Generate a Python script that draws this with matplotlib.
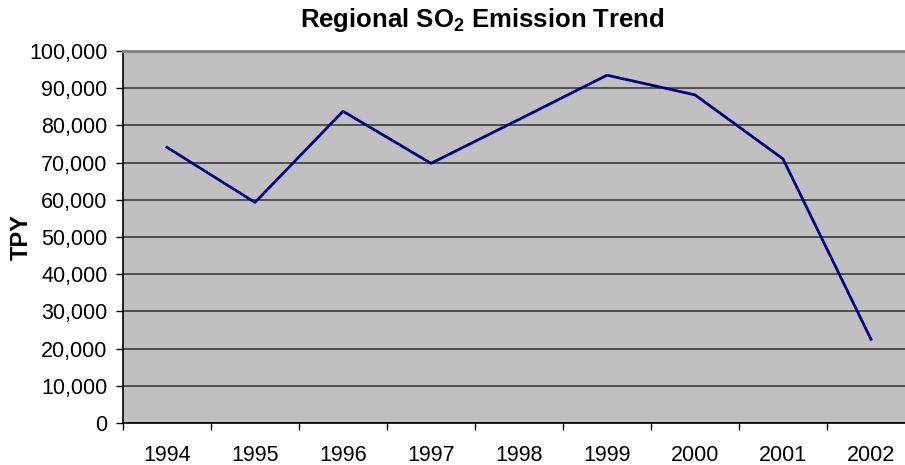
import matplotlib.pyplot as plt
import numpy as np
from matplotlib.ticker import FuncFormatter, MultipleLocator

plt.rcParams["font.family"] = ["Liberation Sans", "DejaVu Sans"]
plt.rcParams["mathtext.fontset"] = "custom"
plt.rcParams["mathtext.rm"] = "Liberation Sans"
plt.rcParams["mathtext.bf"] = "Liberation Sans:bold"

years = ["1994", "1995", "1996", "1997", "1998", "1999", "2000", "2001", "2002"]
tpy = [74100, 59300, 83800, 69800, 81600, 93500, 88200, 71000, 22500]

W, H = 905, 465
fig = plt.figure(figsize=(W / 100, H / 100), dpi=100)
ax = fig.add_axes([123 / W, 42 / H, (915 - 123) / W, 372 / H])
ax.set_facecolor("#c0c0c0")

x = np.arange(len(years))
ax.plot(x, tpy, color="#000080", linewidth=2, zorder=3)

ax.set_xlim(-0.5, len(years) - 0.5)
ax.set_ylim(0, 100000)
ax.yaxis.set_major_locator(MultipleLocator(10000))
ax.yaxis.set_major_formatter(FuncFormatter(lambda v, p: f"{int(v):,}"))
ax.grid(axis="y", color="#303030", linewidth=1.1, zorder=1)
ax.set_axisbelow(True)

ax.set_xticks(x)
ax.set_xticklabels(years)
ax.set_xticks(np.arange(len(years) + 1) - 0.5, minor=True)
ax.tick_params(axis="x", which="major", length=0, pad=16, labelsize=15.5)
ax.tick_params(axis="x", which="minor", length=5, width=1, direction="out")
ax.tick_params(axis="y", length=5, width=1, direction="out", pad=6, labelsize=15.5)

for side in ("left", "bottom"):
    ax.spines[side].set_color("black")
    ax.spines[side].set_linewidth(1.2)
ax.spines["top"].set_color("#808080")
ax.spines["top"].set_linewidth(2)
ax.spines["right"].set_visible(False)

fig.text(482 / W, 1 - 20 / H, r"Regional SO$_\mathbf{2}$ Emission Trend",
         ha="center", va="center", fontsize=18.5, fontweight="bold")
fig.text(21 / W, 1 - 237 / H, "TPY", rotation=90, ha="center", va="center",
         fontsize=17, fontweight="bold")

fig.savefig("out.png", dpi=100)
